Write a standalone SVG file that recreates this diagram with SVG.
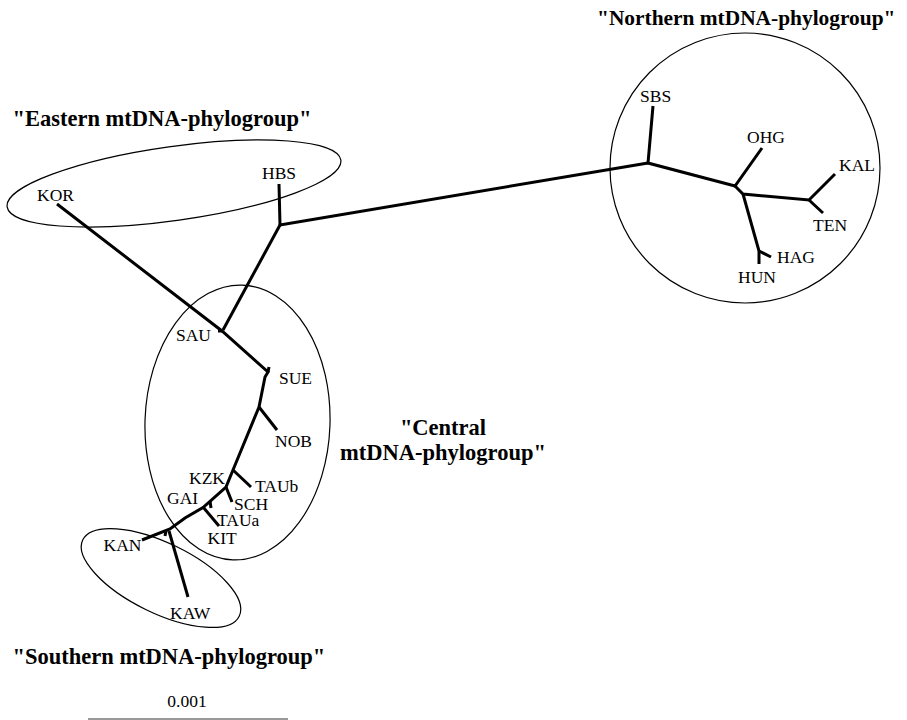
<svg xmlns="http://www.w3.org/2000/svg" width="907" height="720" viewBox="0 0 907 720">
<style>
.lbl{font-family:"Liberation Serif","Times New Roman",serif;font-size:17.5px;fill:#000}
.ttl{font-family:"Liberation Serif","Times New Roman",serif;font-size:22.5px;font-weight:bold;fill:#000}
.grp{fill:none;stroke:#000;stroke-width:1.2}
.br{fill:none;stroke:#000;stroke-width:3;stroke-linejoin:miter;stroke-linecap:butt}
</style>
<rect width="907" height="720" fill="#fff"/>
<g id="groups">
<g id="northern"><circle class="grp" cx="745" cy="168" r="135"/><text class="ttl" x="597" y="25" style="font-size:21.4px">"Northern mtDNA-phylogroup"</text></g>
<g id="eastern"><ellipse class="grp" cx="174" cy="183.5" rx="168.5" ry="37" transform="rotate(-8 174 183.5)"/><text class="ttl" x="12.5" y="126">"Eastern mtDNA-phylogroup"</text></g>
<g id="central"><ellipse class="grp" cx="237.5" cy="422.5" rx="92.5" ry="137.5" transform="rotate(2 237.5 422.5)"/><text class="ttl" text-anchor="middle"><tspan x="443" y="435">"Central</tspan><tspan x="443" y="460">mtDNA-phylogroup"</tspan></text></g>
<g id="southern"><ellipse class="grp" cx="161" cy="578" rx="87" ry="35" transform="rotate(26 161 578)"/><text class="ttl" x="12.5" y="664">"Southern mtDNA-phylogroup"</text></g>
</g>
<g id="connectors">
<path class="br" d="M57,204 L222,331 L268,372 L265,377 L259,407 L233,470 L226,487 L203,507.5 L185,518 L170,529 L142,540"/>
<path class="br" d="M218,331 L222,331"/>
<path class="br" d="M268,372 L269,367"/>
<path class="br" d="M279,184 L280,225 L648,163"/>
<path class="br" d="M280,225 L223,330"/>
<path class="br" d="M259,407 L277,430"/>
<path class="br" d="M233,470 L251,487"/>
<path class="br" d="M226,487 L232,502"/>
<path class="br" d="M203,507 L219,526"/>
<path class="br" d="M210,501 L211,508"/>
<path class="br" d="M169,531 L188,597"/>
<path class="br" d="M166,531 L165,536"/>
<path class="br" d="M653,106 L648,163 L735,186 L762,148"/>
<path class="br" d="M735,186 L743,194 L809,200 L835,174"/>
<path class="br" d="M809,200 L823,213"/>
<path class="br" d="M743,194 L759,251 L759,264"/>
<path class="br" d="M759,251 L771,257"/>
</g>
<g id="nodes">
<g id="SBS"><text class="lbl" x="640" y="102">SBS</text></g>
<g id="OHG"><text class="lbl" x="747" y="143">OHG</text></g>
<g id="KAL"><text class="lbl" x="839" y="171">KAL</text></g>
<g id="TEN"><text class="lbl" x="813" y="231">TEN</text></g>
<g id="HAG"><text class="lbl" x="777" y="263">HAG</text></g>
<g id="HUN"><text class="lbl" x="738" y="283">HUN</text></g>
<g id="KOR"><text class="lbl" x="37" y="201">KOR</text></g>
<g id="HBS"><text class="lbl" x="262" y="179">HBS</text></g>
<g id="SAU"><text class="lbl" x="176" y="341">SAU</text></g>
<g id="SUE"><text class="lbl" x="279" y="384">SUE</text></g>
<g id="NOB"><text class="lbl" x="275" y="446.5">NOB</text></g>
<g id="KZK"><text class="lbl" x="189" y="484">KZK</text></g>
<g id="TAUb"><text class="lbl" x="255" y="492">TAUb</text></g>
<g id="GAI"><text class="lbl" x="167" y="503.5">GAI</text></g>
<g id="SCH"><text class="lbl" x="234" y="510">SCH</text></g>
<g id="TAUa"><text class="lbl" x="217" y="525.5">TAUa</text></g>
<g id="KIT"><text class="lbl" x="207.5" y="544">KIT</text></g>
<g id="KAN"><text class="lbl" x="103.5" y="551">KAN</text></g>
<g id="KAW"><text class="lbl" x="170" y="618.5">KAW</text></g>
</g>
<g id="scale">
<text class="lbl" x="187" y="707" text-anchor="middle">0.001</text>
<line x1="88" y1="719" x2="288" y2="719" stroke="#777" stroke-width="1.5"/>
</g>
</svg>
